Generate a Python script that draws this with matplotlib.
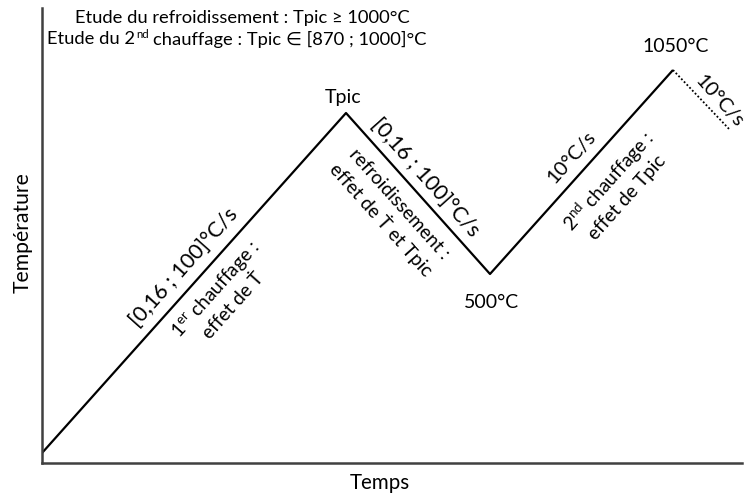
import matplotlib
matplotlib.use("Agg")
import matplotlib.pyplot as plt
import numpy as np

plt.rcParams['font.family'] = ['Lato', 'DejaVu Sans']
plt.rcParams['mathtext.fontset'] = 'custom'
plt.rcParams['mathtext.rm'] = 'Lato'
plt.rcParams['mathtext.it'] = 'Lato:italic'

# schematic thermal cycle (time, temperature in arbitrary drawing units)
time_main = [0, 304, 448, 631]
temp_main = [10, 350, 189, 393]
time_cool = [631, 688]
temp_cool = [393, 333]

point_labels = ["Tpic", "500°C", "1050°C"]
rate_labels = ["[0,16 ; 100]°C/s", "[0,16 ; 100]°C/s", "10°C/s", "10°C/s"]
stage_labels = ["1$^{\\mathrm{er}}$ chauffage :\neffet de Ṫ",
                "refroidissement :\neffet de Ṫ et Tpic",
                "2$^{\\mathrm{nd}}$ chauffage :\neffet de Tpic"]
title_line1 = "Etude du refroidissement : Tpic ≥ 1000°C"
title_line2_parts = ["Etude du 2", "nd", "chauffage : Tpic ∈ [870 ; 1000]°C"]

W, H = 745, 497
fig = plt.figure(figsize=(W / 100, H / 100), dpi=100)
x0, y0, x1, y1 = 42, 463, 742, 8
ax = fig.add_axes([x0 / W, (H - y0) / H, (x1 - x0) / W, (y0 - y1) / H])
ax.set_xlim(0, x1 - x0)
ax.set_ylim(0, y0 - y1)

ax.plot(time_main, temp_main, color='black', lw=1.6, solid_capstyle='butt')
ax.plot(time_cool, temp_cool, color='black', lw=1.3, ls=(0, (1, 1.2)))

for s in ['top', 'right']:
    ax.spines[s].set_visible(False)
for s in ['left', 'bottom']:
    ax.spines[s].set_color('#404040')
    ax.spines[s].set_linewidth(1.8)
ax.set_xticks([])
ax.set_yticks([])

def P(px, py):
    return px - x0, y0 - py

ang = np.degrees(np.arctan2(temp_main[1] - temp_main[0], time_main[1] - time_main[0]))

# title lines
tfs = 13.2
ax.text(*P(242, 22.5), title_line1, ha='center', va='baseline', fontsize=tfs)

fig.canvas.draw()
rend = fig.canvas.get_renderer()
ta = ax.text(0, 0, title_line2_parts[0], ha='left', va='baseline', fontsize=tfs)
tb = ax.text(0, 0, title_line2_parts[1], ha='left', va='baseline', fontsize=tfs * 0.62)
tc = ax.text(0, 0, title_line2_parts[2], ha='left', va='baseline', fontsize=tfs)
wa = ta.get_window_extent(rend).width
wb = tb.get_window_extent(rend).width
wc = tc.get_window_extent(rend).width
sp = tfs * 100 / 72 * 0.22
total = wa + 1 + wb + sp + wc
start = 237 - total / 2
bx, by = P(start, 44.5)
ta.set_position((bx, by))
tb.set_position((bx + wa + 1, by + tfs * 100 / 72 * 0.36))
tc.set_position((bx + wa + 1 + wb + sp, by))

# point labels
pfs = 14
ax.text(*P(343, 98), point_labels[0], ha='center', va='center', fontsize=pfs)
ax.text(*P(491, 302), point_labels[1], ha='center', va='center', fontsize=pfs)
ax.text(*P(676, 47), point_labels[2], ha='center', va='center', fontsize=pfs)

# rate labels
rfs = 15.5
ax.text(*P(184, 267), rate_labels[0], ha='center', va='center', fontsize=rfs, rotation=ang,
        rotation_mode='anchor')
ax.text(*P(425, 177), rate_labels[1], ha='center', va='center', fontsize=rfs, rotation=-ang,
        rotation_mode='anchor')
ax.text(*P(572, 157), rate_labels[2], ha='center', va='center', fontsize=14.5, rotation=ang,
        rotation_mode='anchor')
ax.text(*P(719, 101), rate_labels[3], ha='center', va='center', fontsize=14.5, rotation=-ang,
        rotation_mode='anchor')

# stage labels
sfs = 13.8
ls = 1.3
ax.text(*P(224, 297), stage_labels[0], ha='center', va='center', fontsize=sfs, rotation=ang,
        rotation_mode='anchor', multialignment='center', linespacing=ls)
ax.text(*P(390, 212), stage_labels[1], ha='center', va='center', fontsize=sfs, rotation=-ang,
        rotation_mode='anchor', multialignment='center', linespacing=ls)
ax.text(*P(617, 188), stage_labels[2], ha='center', va='center', fontsize=sfs, rotation=ang,
        rotation_mode='anchor', multialignment='center', linespacing=ls)

# axis titles
fig.text(23 / W, 1 - 233 / H, "Température", rotation=90, ha='center', va='center', fontsize=15.2)
fig.text(380 / W, 1 - 483 / H, "Temps", ha='center', va='center', fontsize=14.8)

fig.savefig("out.png", dpi=100)
